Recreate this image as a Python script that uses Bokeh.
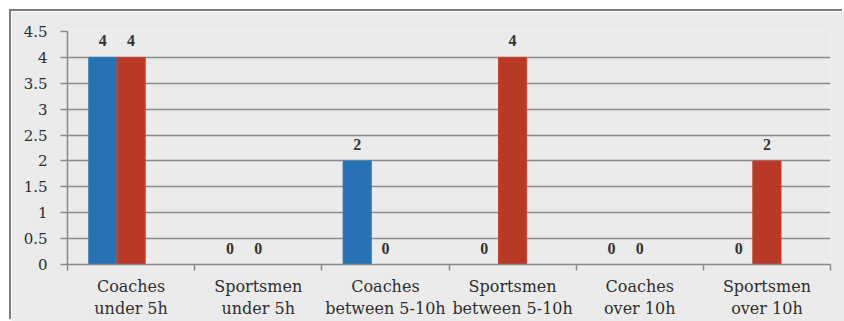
from bokeh.plotting import figure
from bokeh.models import (FactorRange, Range1d, ColumnDataSource, LabelSet, LinearAxis,
                          CategoricalAxis, FixedTicker, NumeralTickFormatter)
from bokeh.transform import dodge
from bokeh.embed import file_html
from bokeh.resources import INLINE

categories = ["Coaches\nunder 5h", "Sportsmen\nunder 5h", "Coaches\nbetween 5-10h",
              "Sportsmen\nbetween 5-10h", "Coaches\nover 10h", "Sportsmen\nover 10h"]
series_blue = [4, 0, 2, 0, 0, 0]
series_red = [4, 0, 0, 4, 0, 2]
y_ticks = [0, 0.5, 1, 1.5, 2, 2.5, 3, 3.5, 4, 4.5]
boundaries = [0, 1, 2, 3, 4, 5, 6]

src = ColumnDataSource(dict(cats=categories, blue=series_blue, red=series_red,
                            blue_t=[str(v) for v in series_blue],
                            red_t=[str(v) for v in series_red]))

FONT = "DejaVu Serif"
GRAY = "#8a8a8a"
BG = "#ebebeb"

p = figure(width=833, height=310, x_range=FactorRange(*categories), y_range=Range1d(0, 4.5),
           output_backend="svg", toolbar_location=None, x_axis_type=None,
           min_border_left=56, min_border_right=14, min_border_top=20, min_border_bottom=57,
           background_fill_color=BG, border_fill_color=BG)
p.margin = (11, 0, 0, 11)
p.styles = {"box-shadow": "-2px -2px 0px 0px #7b7b7b"}
p.outline_line_color = None

# bars
W = 0.222
p.vbar(x=dodge("cats", -W, range=p.x_range), top="blue", width=W, source=src,
       fill_color="#2672b2", line_color="#2f7cbc", line_width=1)
p.vbar(x=dodge("cats", 0, range=p.x_range), top="red", width=W, source=src,
       fill_color="#b83a26", line_color="#c8452f", line_width=1)

lab_kw = dict(text_align="center", text_baseline="alphabetic", y_offset=11,
              text_font=FONT, text_font_style="bold", text_font_size="16px",
              text_color="#333333", source=src)
p.add_layout(LabelSet(x=dodge("cats", -W, range=p.x_range), y="blue", text="blue_t", **lab_kw))
p.add_layout(LabelSet(x=dodge("cats", 0, range=p.x_range), y="red", text="red_t", **lab_kw))

# y axis
ya = p.yaxis[0]
ya.ticker = FixedTicker(ticks=y_ticks)
ya.formatter = NumeralTickFormatter(format="0.[0]")
ya.axis_line_color = GRAY
ya.axis_line_width = 1.5
ya.major_tick_line_color = GRAY
ya.major_tick_line_width = 1.5
ya.major_tick_out = 7
ya.major_tick_in = 0
ya.minor_tick_line_color = None
ya.major_label_text_font = FONT
ya.major_label_text_font_size = "15px"
ya.major_label_text_color = "#2e2e2e"
ya.major_label_standoff = 13

p.ygrid.grid_line_color = GRAY
p.ygrid.grid_line_width = 1.5
p.ygrid.ticker = FixedTicker(ticks=y_ticks)

# x axis: boundary ticks (synthetic coordinates of the factor range)
tick_axis = LinearAxis(ticker=FixedTicker(ticks=boundaries),
                       axis_line_color=GRAY, axis_line_width=1.5,
                       major_tick_line_color=GRAY, major_tick_line_width=1.5,
                       major_tick_out=6, major_tick_in=0, minor_tick_line_color=None,
                       major_label_text_font_size="1px", major_label_text_color=None,
                       major_label_standoff=0)
p.add_layout(tick_axis, "below")

cat_axis = CategoricalAxis(axis_line_color=None, major_tick_line_color=None,
                           major_tick_out=0, major_tick_in=0,
                           major_label_text_font=FONT, major_label_text_font_size="16px",
                           major_label_text_color="#2e2e2e", major_label_standoff=6)
p.add_layout(cat_axis, "below")

open("out.html", "w").write(file_html(p, INLINE))
